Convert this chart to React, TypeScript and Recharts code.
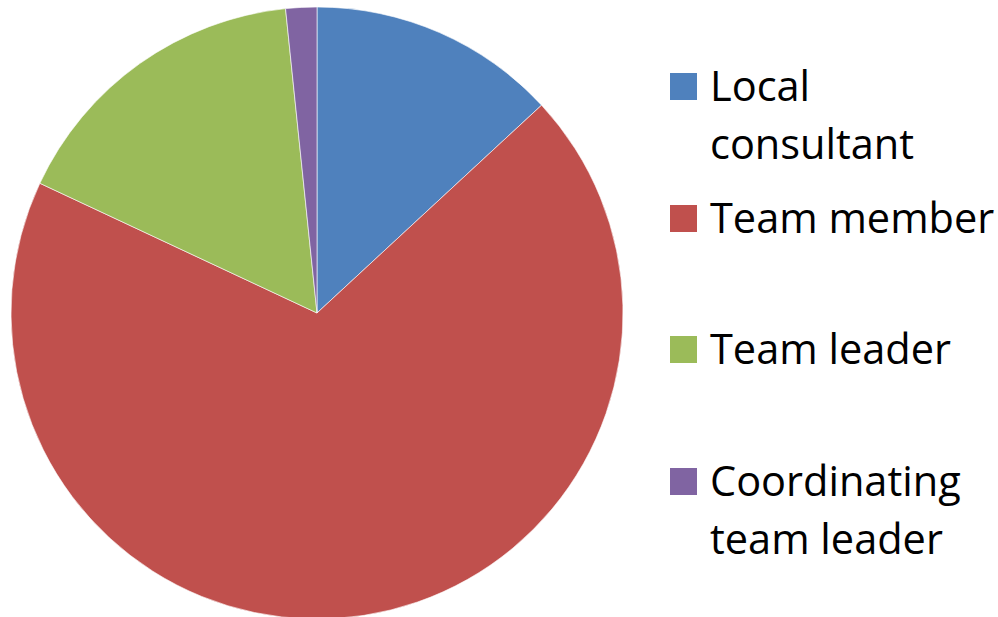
import React from 'react';
import { PieChart, Pie, Cell, Legend } from 'recharts';

const roles = ['Local consultant', 'Team member', 'Team leader', 'Coordinating team leader'];
const counts = [8, 42, 10, 1];
const sliceColors = ['#4F81BD', '#C0504D', '#9BBB59', '#8064A2'];

const pieData = roles.map((name, i) => ({ name, value: counts[i] }));

const FONT = '"Open Sans", "Noto Sans", sans-serif';

// keep legend in data order (recharts sorts payload by name otherwise)
const renderLegend = () => (
  <div style={{ fontFamily: FONT, paddingTop: 56 }}>
    {roles.map((name, i) => (
      <div key={`leg-${i}`} style={{ display: 'flex', alignItems: 'flex-start', height: 131.5 }}>
        <div
          style={{
            width: 27,
            height: 27,
            marginTop: 17,
            marginRight: 13,
            background: sliceColors[i],
            flexShrink: 0,
          }}
        />
        <div style={{ fontSize: 41.5, lineHeight: '58px', color: '#000', width: 288 }}>{name}</div>
      </div>
    ))}
  </div>
);

export default function App() {
  return (
    <div style={{ width: 998, height: 617, background: '#fff', overflow: 'hidden' }}>
      <style>{'body{margin:0}'}</style>
      <PieChart width={998} height={617} margin={{ top: 0, right: 0, bottom: 0, left: 0 }}>
        <Pie
          data={pieData}
          dataKey="value"
          nameKey="name"
          cx={317}
          cy={313}
          outerRadius={306}
          startAngle={90}
          endAngle={-270}
          stroke="#ffffff"
          strokeWidth={1}
          strokeOpacity={0.6}
          isAnimationActive={false}
        >
          {pieData.map((_, i) => (
            <Cell key={`cell-${i}`} fill={sliceColors[i]} />
          ))}
        </Pie>
        <Legend
          layout="vertical"
          align="right"
          verticalAlign="middle"
          content={renderLegend}
          wrapperStyle={{ position: 'absolute', left: 670, top: 0, width: 328, height: 617 }}
        />
      </PieChart>
    </div>
  );
}
